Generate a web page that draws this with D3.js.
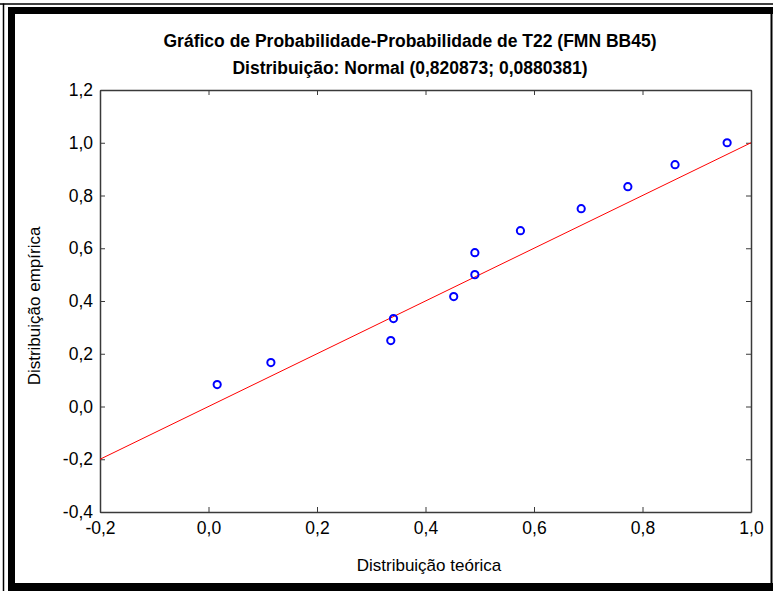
<!DOCTYPE html>
<html>
<head>
<meta charset="utf-8">
<script src="https://cdn.jsdelivr.net/npm/d3@7"></script>
<style>
  html, body { margin: 0; padding: 0; background: #fff; }
  svg { display: block; font-family: "Liberation Sans", Arial, sans-serif; }
</style>
</head>
<body>
<svg id="chart" width="773" height="591"></svg>
<script>
// Theoretical (x) vs empirical (y) cumulative probabilities
const theoretical = [0.016, 0.115, 0.336, 0.341, 0.452, 0.491, 0.491, 0.575, 0.687, 0.773, 0.860, 0.956];
const empirical   = [0.0833, 0.1667, 0.25, 0.3333, 0.4167, 0.5, 0.5833, 0.6667, 0.75, 0.8333, 0.9167, 1.0];
const xTicks = [-0.2, 0.0, 0.2, 0.4, 0.6, 0.8, 1.0];
const yTicks = [-0.4, -0.2, 0.0, 0.2, 0.4, 0.6, 0.8, 1.0, 1.2];
const refLine = [-0.2, 1.0];
const titleLines = [
  "Gráfico de Probabilidade-Probabilidade de T22 (FMN BB45)",
  "Distribuição: Normal (0,820873; 0,0880381)"
];
const xLabel = "Distribuição teórica";
const yLabel = "Distribuição empírica";

const svg = d3.select("#chart");
const W = 773, H = 591;
const plot = { left: 100, right: 751, top: 90, bottom: 512 };

const fmt = d => d3.format(".1f")(d).replace(".", ",").replace("−", "-");

// Window-style frame
svg.append("line").attr("x1", 0).attr("x2", W).attr("y1", 4).attr("y2", 4).attr("stroke", "#000").attr("stroke-width", 1.5);
svg.append("line").attr("x1", 3.5).attr("x2", 3.5).attr("y1", 3.5).attr("y2", H).attr("stroke", "#000").attr("stroke-width", 1.5);
svg.append("rect").attr("x", 8).attr("y", 7).attr("width", W - 8).attr("height", 7).attr("fill", "#000");
svg.append("rect").attr("x", 8).attr("y", 7).attr("width", 7).attr("height", H - 7).attr("fill", "#000");
svg.append("rect").attr("x", 15).attr("y", 583).attr("width", W - 15).attr("height", 8).attr("fill", "#000");
svg.append("line").attr("x1", 771.5).attr("x2", 771.5).attr("y1", 14).attr("y2", 583).attr("stroke", "#000").attr("stroke-width", 2);

const x = d3.scaleLinear().domain([-0.2, 1.0]).range([plot.left, plot.right]);
const y = d3.scaleLinear().domain([-0.4, 1.2]).range([plot.bottom, plot.top]);

const axisColor = "#3a3a3a";
const tickLen = 5;

// Axes with inward ticks on all four sides
const gB = svg.append("g").attr("transform", `translate(0,${plot.bottom})`)
  .call(d3.axisBottom(x).tickValues(xTicks).tickSizeInner(-tickLen).tickSizeOuter(0).tickPadding(10).tickFormat(fmt));
const gT = svg.append("g").attr("transform", `translate(0,${plot.top})`)
  .call(d3.axisTop(x).tickValues(xTicks).tickSizeInner(-tickLen).tickSizeOuter(0).tickFormat(""));
const gL = svg.append("g").attr("transform", `translate(${plot.left},0)`)
  .call(d3.axisLeft(y).tickValues(yTicks).tickSizeInner(-tickLen).tickSizeOuter(0).tickPadding(7).tickFormat(fmt));
const gR = svg.append("g").attr("transform", `translate(${plot.right},0)`)
  .call(d3.axisRight(y).tickValues(yTicks).tickSizeInner(-tickLen).tickSizeOuter(0).tickFormat(""));

[gB, gT, gL, gR].forEach(g => {
  g.select(".domain").attr("stroke", axisColor).attr("stroke-width", 1.5);
  g.selectAll(".tick line").attr("stroke", axisColor).attr("stroke-width", 1);
  g.selectAll(".tick text").attr("fill", "#000").attr("font-size", 17.5)
    .attr("font-family", "Liberation Sans, Arial, sans-serif");
});
gB.selectAll(".tick text").attr("dy", "0.71em");

// Reference line y = x
svg.append("line")
  .attr("x1", x(refLine[0])).attr("y1", y(refLine[0]))
  .attr("x2", x(refLine[1])).attr("y2", y(refLine[1]))
  .attr("stroke", "#ff0000").attr("stroke-width", 1);

// Observed points
svg.append("g").selectAll("circle")
  .data(theoretical.map((t, i) => [t, empirical[i]]))
  .join("circle")
  .attr("cx", d => x(d[0])).attr("cy", d => y(d[1]))
  .attr("r", 3.6)
  .attr("fill", "none").attr("stroke", "#0000ff").attr("stroke-width", 2);

// Titles
svg.append("g").selectAll("text").data(titleLines).join("text")
  .attr("x", 410).attr("y", (d, i) => 47 + i * 27)
  .attr("text-anchor", "middle").attr("font-size", 17.5).attr("font-weight", "bold")
  .text(d => d);

svg.append("text").attr("x", 429).attr("y", 571)
  .attr("text-anchor", "middle").attr("font-size", 17).text(xLabel);

svg.append("text").attr("transform", "translate(40,306) rotate(-90)")
  .attr("text-anchor", "middle").attr("font-size", 17).text(yLabel);
</script>
</body>
</html>
